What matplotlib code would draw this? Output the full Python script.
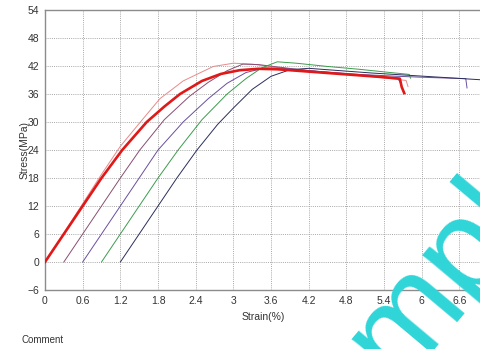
import matplotlib
matplotlib.use("Agg")
import matplotlib.pyplot as plt
import numpy as np

# strain (%) / stress (MPa)
RED_STRAIN = [0, 0.3, 0.6, 0.9, 1.23, 1.62, 1.9, 2.15, 2.5, 2.8, 3.1, 3.4, 3.7, 4.2, 4.8, 5.3, 5.65, 5.68, 5.72]
RED_STRESS = [0, 6, 12, 18, 24, 30, 33.3, 36, 38.8, 40.3, 41.1, 41.4, 41.3, 40.8, 40.2, 39.7, 39.3, 37.5, 36.2]

PINK_STRAIN = [0, 0.3, 0.6, 0.9, 1.2, 1.55, 1.83, 2.2, 2.68, 3.0, 3.3, 3.8, 4.4, 5.0, 5.5, 5.75, 5.78]
PINK_STRESS = [0, 6.2, 12.5, 18.8, 24.8, 30.5, 35, 38.8, 41.9, 42.6, 42.4, 41.5, 40.7, 40.0, 39.3, 38.9, 37.6]

MAUVE_STRAIN = [0.3, 0.6, 0.9, 1.2, 1.51, 1.9, 2.3, 2.6, 2.9, 3.15, 3.4, 3.7, 4.2, 4.8, 5.4, 5.62, 5.65]
MAUVE_STRESS = [0, 6, 12, 18, 24, 30.5, 35.5, 38.5, 41.0, 42.4, 42.3, 41.8, 41.0, 40.3, 39.6, 39.3, 38.6]

PURPLE_STRAIN = [0.6, 0.9, 1.2, 1.5, 1.8, 2.2, 2.6, 2.9, 3.2, 3.5, 3.8, 4.4, 5.0, 5.6, 6.2, 6.7, 6.72]
PURPLE_STRESS = [0, 6, 12, 18, 24, 30, 35, 38.3, 40.6, 41.6, 41.5, 40.8, 40.2, 39.8, 39.5, 39.3, 37.3]

GREEN_STRAIN = [0.9, 1.2, 1.5, 1.8, 2.12, 2.5, 2.9, 3.2, 3.45, 3.7, 4.0, 4.5, 5.0, 5.5, 5.8, 5.82]
GREEN_STRESS = [0, 6, 12, 18, 24, 30.5, 36, 39.3, 41.6, 42.9, 42.6, 41.9, 41.3, 40.6, 40.2, 39.4]

NAVY_STRAIN = [1.2, 1.5, 1.8, 2.1, 2.42, 2.75, 3.0, 3.3, 3.6, 3.9, 4.2, 4.6, 5.2, 5.8, 6.4, 7.0, 7.2]
NAVY_STRESS = [0, 6, 12, 18, 24, 29.5, 33, 37, 39.8, 41.2, 41.5, 41.1, 40.5, 40.0, 39.5, 39.0, 38.8]

X_TICKS = [0, 0.6, 1.2, 1.8, 2.4, 3, 3.6, 4.2, 4.8, 5.4, 6, 6.6]
X_TICK_LABELS = ["0", "0.6", "1.2", "1.8", "2.4", "3", "3.6", "4.2", "4.8", "5.4", "6", "6.6"]
Y_TICKS = [-6, 0, 6, 12, 18, 24, 30, 36, 42, 48, 54]

plt.rcParams["font.family"] = ["Liberation Sans", "DejaVu Sans"]

fig = plt.figure(figsize=(4.81, 3.49), dpi=100)
ax = fig.add_axes([45 / 481, 59 / 349, 436 / 481, 280 / 349])

thin = [
    (PINK_STRAIN, PINK_STRESS, "#e88a8a"),
    (MAUVE_STRAIN, MAUVE_STRESS, "#8a4d72"),
    (PURPLE_STRAIN, PURPLE_STRESS, "#6a4e9e"),
    (GREEN_STRAIN, GREEN_STRESS, "#3c9c4c"),
    (NAVY_STRAIN, NAVY_STRESS, "#2a2e5c"),
]
for xs, ys, color in thin:
    ax.plot(xs, ys, color=color, linewidth=0.7, zorder=3)
ax.plot(RED_STRAIN, RED_STRESS, color="#e01818", linewidth=1.9, zorder=4)

ax.set_xlim(0, 436 / 62.8)
ax.set_ylim(-6, 54)
ax.set_xticks(X_TICKS)
ax.set_xticklabels(X_TICK_LABELS)
ax.set_yticks(Y_TICKS)
ax.tick_params(length=0, labelsize=7.5, labelcolor="#333333", pad=4)
ax.grid(color="#a8a8a8", linestyle=(0, (1, 1.2)), linewidth=0.7)
for side in ("left", "bottom", "top"):
    ax.spines[side].set_color("#8c8c8c")
    ax.spines[side].set_linewidth(1.0)
ax.spines["right"].set_visible(False)

ax.set_xlabel("Strain(%)", fontsize=7.5, color="#333333", labelpad=5)
ax.set_ylabel("Stress(MPa)", fontsize=7.5, color="#333333", labelpad=-1)

fig.text(22 / 481, 1 - 340 / 349, "Comment", fontsize=7, color="#333333", va="center")

# cyan watermark, only "mp" of it falls inside the picture
fig.text(294 / 481, 1 - 510 / 349, "Sample", fontsize=95, color="#2fd5d8",
         rotation=50, rotation_mode="anchor", ha="left", va="baseline", zorder=10)

fig.savefig("out.png", dpi=100)
